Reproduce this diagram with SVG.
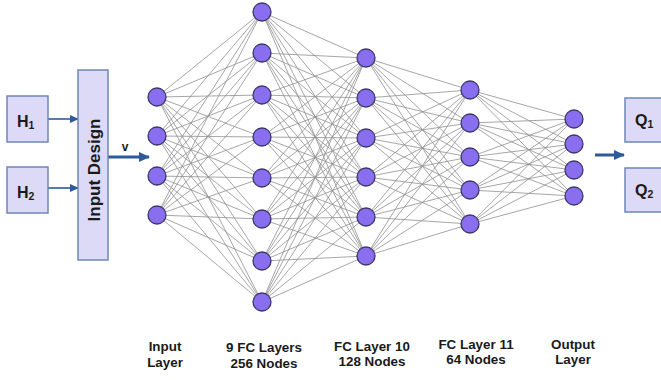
<svg xmlns="http://www.w3.org/2000/svg" width="661" height="380" viewBox="0 0 661 380">
<style>
.box{fill:#dddaf8;stroke:#6f87b8;stroke-width:1.5}
.nd{fill:#8a6ef0;stroke:#3b3868;stroke-width:1.3}
.cn{fill:none;stroke:#8f8f8f;stroke-width:0.8}
.ar{stroke:#2e5a9a;stroke-width:1.6;fill:none}
.ark{stroke:#2e5a9a;stroke-width:3;fill:none}
.t{font-family:"Liberation Sans",Arial,sans-serif;fill:#1a1a1a}
.lb{font-family:"Liberation Sans",Arial,sans-serif;font-weight:bold;font-size:13.4px;fill:#1a1a1a;text-anchor:middle}
</style>
<defs>
<marker id="ah" markerUnits="userSpaceOnUse" markerWidth="9" markerHeight="8" refX="8" refY="4" orient="auto"><path d="M0 0L9 4L0 8z" fill="#2e5a9a"/></marker>
<marker id="ahk" markerUnits="userSpaceOnUse" markerWidth="11" markerHeight="10" refX="10" refY="5" orient="auto"><path d="M0 0L11 5L0 10z" fill="#2e5a9a"/></marker>
</defs>
<rect width="661" height="380" fill="#ffffff"/>
<g id="connectors">
<path class="cn" d="M157 97L262 12M157 97L262 53M157 97L262 95M157 97L262 137M157 97L262 178M157 97L262 219M157 97L262 261M157 97L262 302
M157 136L262 12M157 136L262 53M157 136L262 95M157 136L262 137M157 136L262 178M157 136L262 219M157 136L262 261M157 136L262 302
M157 176L262 12M157 176L262 53M157 176L262 95M157 176L262 137M157 176L262 178M157 176L262 219M157 176L262 261M157 176L262 302
M157 215L262 12M157 215L262 53M157 215L262 95M157 215L262 137M157 215L262 178M157 215L262 219M157 215L262 261M157 215L262 302"/>
<path class="cn" d="M262 12L366 58M262 12L366 98M262 12L366 138M262 12L366 177M262 12L366 217M262 12L366 256
M262 53L366 58M262 53L366 98M262 53L366 138M262 53L366 177M262 53L366 217M262 53L366 256
M262 95L366 58M262 95L366 98M262 95L366 138M262 95L366 177M262 95L366 217M262 95L366 256
M262 137L366 58M262 137L366 98M262 137L366 138M262 137L366 177M262 137L366 217M262 137L366 256
M262 178L366 58M262 178L366 98M262 178L366 138M262 178L366 177M262 178L366 217M262 178L366 256
M262 219L366 58M262 219L366 98M262 219L366 138M262 219L366 177M262 219L366 217M262 219L366 256
M262 261L366 58M262 261L366 98M262 261L366 138M262 261L366 177M262 261L366 217M262 261L366 256
M262 302L366 58M262 302L366 98M262 302L366 138M262 302L366 177M262 302L366 217M262 302L366 256"/>
<path class="cn" d="M366 58L470 90M366 58L470 123M366 58L470 157M366 58L470 190M366 58L470 224
M366 98L470 90M366 98L470 123M366 98L470 157M366 98L470 190M366 98L470 224
M366 138L470 90M366 138L470 123M366 138L470 157M366 138L470 190M366 138L470 224
M366 177L470 90M366 177L470 123M366 177L470 157M366 177L470 190M366 177L470 224
M366 217L470 90M366 217L470 123M366 217L470 157M366 217L470 190M366 217L470 224
M366 256L470 90M366 256L470 123M366 256L470 157M366 256L470 190M366 256L470 224"/>
<path class="cn" d="M470 90L574 119M470 90L574 144M470 90L574 170M470 90L574 196
M470 123L574 119M470 123L574 144M470 123L574 170M470 123L574 196
M470 157L574 119M470 157L574 144M470 157L574 170M470 157L574 196
M470 190L574 119M470 190L574 144M470 190L574 170M470 190L574 196
M470 224L574 119M470 224L574 144M470 224L574 170M470 224L574 196"/>
<line class="ar" x1="48" y1="119" x2="78" y2="119" marker-end="url(#ah)"/>
<line class="ar" x1="48" y1="188" x2="78" y2="188" marker-end="url(#ah)"/>
<line class="ark" x1="108" y1="157" x2="149" y2="157" marker-end="url(#ahk)"/>
<line class="ark" x1="595" y1="155" x2="624" y2="155" marker-end="url(#ahk)"/>
<text class="t" x="125" y="151" font-size="12" font-weight="bold" text-anchor="middle">v</text>
</g>
<g id="H1"><rect class="box" x="7" y="96" width="41" height="46"/><text class="t" x="17" y="127" font-size="16" font-weight="bold">H<tspan font-size="10.5" dy="2">1</tspan></text></g>
<g id="H2"><rect class="box" x="7" y="167" width="41" height="46"/><text class="t" x="17" y="198" font-size="16" font-weight="bold">H<tspan font-size="10.5" dy="2">2</tspan></text></g>
<g id="InputDesign"><rect class="box" x="78" y="70" width="30" height="190"/><text class="t" transform="translate(100 170) rotate(-90)" font-size="17" font-weight="bold" text-anchor="middle">Input Design</text></g>
<g id="Q1"><rect class="box" x="625" y="98" width="45" height="44"/><text class="t" x="635" y="126" font-size="16" font-weight="bold">Q<tspan font-size="10.5" dy="2">1</tspan></text></g>
<g id="Q2"><rect class="box" x="625" y="168" width="45" height="44"/><text class="t" x="635" y="196" font-size="16" font-weight="bold">Q<tspan font-size="10.5" dy="2">2</tspan></text></g>
<g id="layer1">
<g id="n1_1"><circle class="nd" cx="157" cy="97" r="9"/></g>
<g id="n1_2"><circle class="nd" cx="157" cy="136" r="9"/></g>
<g id="n1_3"><circle class="nd" cx="157" cy="176" r="9"/></g>
<g id="n1_4"><circle class="nd" cx="157" cy="215" r="9"/></g>
</g>
<g id="layer2">
<g id="n2_1"><circle class="nd" cx="262" cy="12" r="9"/></g>
<g id="n2_2"><circle class="nd" cx="262" cy="53" r="9"/></g>
<g id="n2_3"><circle class="nd" cx="262" cy="95" r="9"/></g>
<g id="n2_4"><circle class="nd" cx="262" cy="137" r="9"/></g>
<g id="n2_5"><circle class="nd" cx="262" cy="178" r="9"/></g>
<g id="n2_6"><circle class="nd" cx="262" cy="219" r="9"/></g>
<g id="n2_7"><circle class="nd" cx="262" cy="261" r="9"/></g>
<g id="n2_8"><circle class="nd" cx="262" cy="302" r="9"/></g>
</g>
<g id="layer3">
<g id="n3_1"><circle class="nd" cx="366" cy="58" r="9"/></g>
<g id="n3_2"><circle class="nd" cx="366" cy="98" r="9"/></g>
<g id="n3_3"><circle class="nd" cx="366" cy="138" r="9"/></g>
<g id="n3_4"><circle class="nd" cx="366" cy="177" r="9"/></g>
<g id="n3_5"><circle class="nd" cx="366" cy="217" r="9"/></g>
<g id="n3_6"><circle class="nd" cx="366" cy="256" r="9"/></g>
</g>
<g id="layer4">
<g id="n4_1"><circle class="nd" cx="470" cy="90" r="9"/></g>
<g id="n4_2"><circle class="nd" cx="470" cy="123" r="9"/></g>
<g id="n4_3"><circle class="nd" cx="470" cy="157" r="9"/></g>
<g id="n4_4"><circle class="nd" cx="470" cy="190" r="9"/></g>
<g id="n4_5"><circle class="nd" cx="470" cy="224" r="9"/></g>
</g>
<g id="layer5">
<g id="n5_1"><circle class="nd" cx="574" cy="119" r="9"/></g>
<g id="n5_2"><circle class="nd" cx="574" cy="144" r="9"/></g>
<g id="n5_3"><circle class="nd" cx="574" cy="170" r="9"/></g>
<g id="n5_4"><circle class="nd" cx="574" cy="196" r="9"/></g>
</g>
<g id="labels">
<text class="lb" x="165" y="351">Input</text>
<text class="lb" x="165" y="367">Layer</text>
<text class="lb" x="264" y="352">9 FC Layers</text>
<text class="lb" x="264" y="368">256 Nodes</text>
<text class="lb" x="372" y="351">FC Layer 10</text>
<text class="lb" x="372" y="366">128 Nodes</text>
<text class="lb" x="476" y="349">FC Layer 11</text>
<text class="lb" x="476" y="364">64 Nodes</text>
<text class="lb" x="573" y="349">Output</text>
<text class="lb" x="573" y="364">Layer</text>
</g>
</svg>
